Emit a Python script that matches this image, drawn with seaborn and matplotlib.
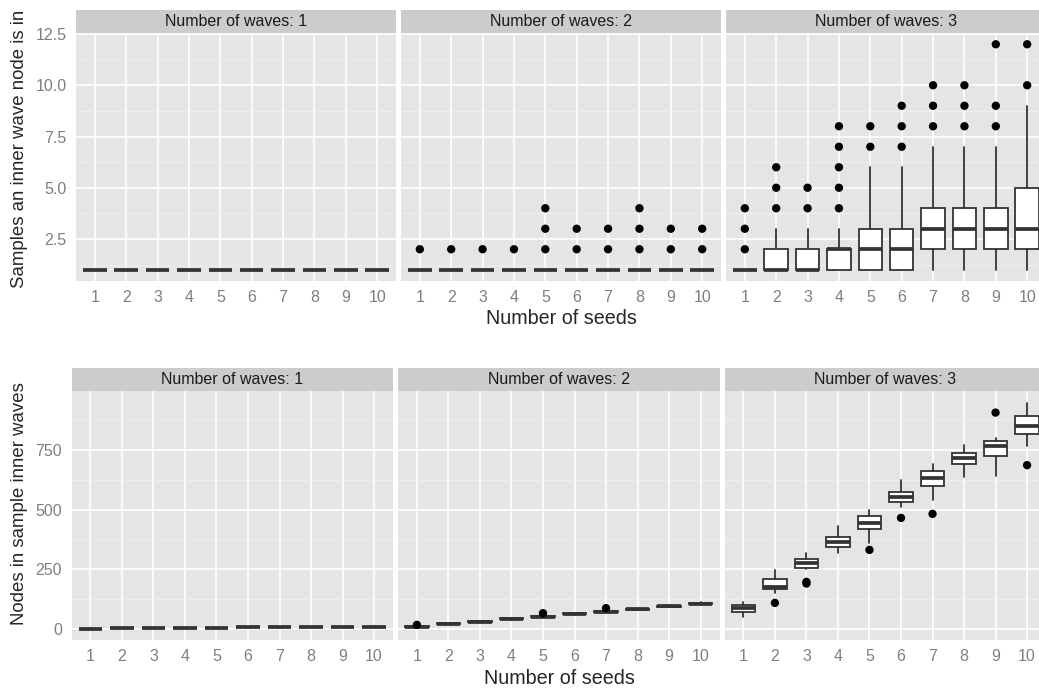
import numpy as np
import pandas as pd
import matplotlib
matplotlib.use("Agg")
import matplotlib.pyplot as plt
import seaborn as sns

# ---- data ----
seeds = [1, 2, 3, 4, 5, 6, 7, 8, 9, 10]
wave_labels = ["Number of waves: 1", "Number of waves: 2", "Number of waves: 3"]

# top row: samples an inner wave node is in
top1_q1 = [1, 1, 1, 1, 1, 1, 1, 1, 1, 1]
top1_med = [1, 1, 1, 1, 1, 1, 1, 1, 1, 1]
top1_q3 = [1, 1, 1, 1, 1, 1, 1, 1, 1, 1]
top1_lo = [1, 1, 1, 1, 1, 1, 1, 1, 1, 1]
top1_hi = [1, 1, 1, 1, 1, 1, 1, 1, 1, 1]
top1_out = [[], [], [], [], [], [], [], [], [], []]

top2_q1 = [1, 1, 1, 1, 1, 1, 1, 1, 1, 1]
top2_med = [1, 1, 1, 1, 1, 1, 1, 1, 1, 1]
top2_q3 = [1, 1, 1, 1, 1, 1, 1, 1, 1, 1]
top2_lo = [1, 1, 1, 1, 1, 1, 1, 1, 1, 1]
top2_hi = [1, 1, 1, 1, 1, 1, 1, 1, 1, 1]
top2_out = [[2], [2], [2], [2], [2, 3, 4], [2, 3], [2, 3], [2, 3, 4], [2, 3], [2, 3]]

top3_q1 = [1, 1, 1, 1, 1, 1, 2, 2, 2, 2]
top3_med = [1, 1, 1, 2, 2, 2, 3, 3, 3, 3]
top3_q3 = [1, 2, 2, 2, 3, 3, 4, 4, 4, 5]
top3_lo = [1, 1, 1, 1, 1, 1, 1, 1, 1, 1]
top3_hi = [1, 3, 3, 3, 6, 6, 7, 7, 7, 9]
top3_out = [[2, 3, 4], [4, 5, 6], [4, 5], [4, 5, 6, 7, 8], [7, 8],
            [7, 8, 9], [8, 9, 10], [8, 9, 10], [8, 9, 12], [10, 12]]

# bottom row: nodes in sample inner waves
bot1_q1 = [1, 2, 3, 4, 5, 6, 7, 8, 9, 10]
bot1_med = [1, 2, 3, 4, 5, 6, 7, 8, 9, 10]
bot1_q3 = [1, 2, 3, 4, 5, 6, 7, 8, 9, 10]
bot1_lo = [1, 2, 3, 4, 5, 6, 7, 8, 9, 10]
bot1_hi = [2, 3, 4, 5, 6, 7, 8, 9, 10, 11]
bot1_out = [[], [], [], [], [], [], [], [], [], []]

bot2_q1 = [8, 19, 29, 40, 50, 61, 70, 80, 93, 104]
bot2_med = [10, 21, 31, 42, 52, 63, 72, 82, 95, 106]
bot2_q3 = [12, 23, 33, 44, 54, 65, 74, 84, 97, 108]
bot2_lo = [6, 17, 27, 38, 47, 58, 67, 78, 90, 101]
bot2_hi = [14, 25, 35, 46, 57, 68, 77, 86, 100, 111]
bot2_out = [[17], [], [], [], [66], [], [87], [], [], []]

bot3_q1 = [71, 168, 254, 342, 419, 533, 600, 690, 725, 816]
bot3_med = [86, 175, 275, 363, 443, 554, 631, 715, 767, 850]
bot3_q3 = [100, 209, 294, 384, 471, 574, 662, 736, 785, 890]
bot3_lo = [52, 150, 250, 317, 359, 510, 540, 635, 642, 767]
bot3_hi = [114, 247, 320, 431, 498, 624, 690, 771, 799, 948]
bot3_out = [[], [109], [190, 197], [], [331], [465], [482], [], [906], [686]]

top_y_title = "Samples an inner wave node is in"
bot_y_title = "Nodes in sample inner waves"
x_title = "Number of seeds"

# ---- style (ggplot-ish grey theme) ----
sns.set_theme(style="darkgrid", rc={
    "axes.facecolor": "#E5E5E5",
    "grid.color": "white",
})
plt.rcParams['font.family'] = ['Liberation Sans', 'DejaVu Sans']

W, H = 1039, 690
fig = plt.figure(figsize=(W / 100, H / 100), dpi=100)
fig.patch.set_facecolor("white")

EDGE = "#333333"
TICKC = "#7F7F7F"


def px_axes(x0, y0, x1, y1):
    return fig.add_axes([x0 / W, 1 - y1 / H, (x1 - x0) / W, (y1 - y0) / H])


def draw_panel(ax, q1, med, q3, lo, hi, out, ylim, major, minor, ylabels, show_y):
    stats = [dict(q1=a, med=m, q3=b, whislo=l, whishi=h, fliers=[])
             for a, m, b, l, h in zip(q1, med, q3, lo, hi)]
    ax.bxp(stats, positions=seeds, widths=0.75, showcaps=False,
           showfliers=False, patch_artist=True, manage_ticks=False,
           boxprops=dict(facecolor="white", edgecolor=EDGE, linewidth=1.3),
           medianprops=dict(color=EDGE, linewidth=2.7, solid_capstyle="butt"),
           whiskerprops=dict(color=EDGE, linewidth=1.3))
    pts = pd.DataFrame([(s, v) for s, vals in zip(seeds, out) for v in vals],
                       columns=["seed", "value"])
    if len(pts):
        sns.scatterplot(data=pts, x="seed", y="value", ax=ax, color="black",
                        s=36, edgecolor="none", legend=False, zorder=5)
    ax.set_xlim(0.4, 10.6)
    ax.set_ylim(*ylim)
    ax.set_xticks(seeds)
    ax.set_xticklabels([str(s) for s in seeds])
    ax.set_yticks(major)
    ax.set_yticks(minor, minor=True)
    ax.set_axisbelow(True)
    ax.grid(False)
    ax.grid(which="major", axis="both", color="white", linewidth=1.2)
    ax.grid(which="minor", axis="y", color="#F2F2F2", linewidth=0.6)
    ax.tick_params(axis="both", which="major", direction="out", length=4.3,
                   width=0.8, color=TICKC, labelcolor=TICKC, labelsize=11.5, pad=2.5)
    ax.tick_params(axis="both", which="minor", length=0)
    if show_y:
        ax.set_yticklabels(ylabels)
    else:
        ax.tick_params(axis="y", which="major", length=0, labelleft=False)
    for sp in ax.spines.values():
        sp.set_visible(False)
    ax.set_xlabel("")
    ax.set_ylabel("")


def draw_strip(x0, y0, x1, y1, label):
    s = px_axes(x0, y0, x1, y1)
    s.set_facecolor("#CCCCCC")
    s.set_xticks([])
    s.set_yticks([])
    s.grid(False)
    for sp in s.spines.values():
        sp.set_visible(False)
    s.text(0.5, 0.5, label, ha="center", va="center", fontsize=11.5,
           color="#1A1A1A", transform=s.transAxes)


# top row
top_sets = [
    (top1_q1, top1_med, top1_q3, top1_lo, top1_hi, top1_out),
    (top2_q1, top2_med, top2_q3, top2_lo, top2_hi, top2_out),
    (top3_q1, top3_med, top3_q3, top3_lo, top3_hi, top3_out),
]
top_lefts = [76, 401, 726]
for i, (x0, d) in enumerate(zip(top_lefts, top_sets)):
    ax = px_axes(x0, 33, x0 + 320, 281)
    draw_panel(ax, *d, ylim=(0.45, 12.55),
               major=[2.5, 5.0, 7.5, 10.0, 12.5],
               minor=[1.25, 3.75, 6.25, 8.75, 11.25],
               ylabels=["2.5", "5.0", "7.5", "10.0", "12.5"], show_y=(i == 0))
    draw_strip(x0, 9.5, x0 + 320, 33, wave_labels[i])

# bottom row
bot_sets = [
    (bot1_q1, bot1_med, bot1_q3, bot1_lo, bot1_hi, bot1_out),
    (bot2_q1, bot2_med, bot2_q3, bot2_lo, bot2_hi, bot2_out),
    (bot3_q1, bot3_med, bot3_q3, bot3_lo, bot3_hi, bot3_out),
]
bot_lefts = [71.5, 398, 724.5]
for i, (x0, d) in enumerate(zip(bot_lefts, bot_sets)):
    ax = px_axes(x0, 391, x0 + 321.5, 640)
    draw_panel(ax, *d, ylim=(-46.4, 996.5),
               major=[0, 250, 500, 750],
               minor=[125, 375, 625, 875],
               ylabels=["0", "250", "500", "750"], show_y=(i == 0))
    draw_strip(x0, 368, x0 + 321.5, 391, wave_labels[i])

# axis titles
fig.text(561 / W, 1 - 319 / H, x_title, ha="center", va="center", fontsize=14.2)
fig.text(559 / W, 1 - 678 / H, x_title, ha="center", va="center", fontsize=14.2)
fig.text(20 / W, 1 - 149 / H, top_y_title, ha="center", va="center",
         rotation=90, fontsize=13.4)
fig.text(20 / W, 1 - 504 / H, bot_y_title, ha="center", va="center",
         rotation=90, fontsize=13.4)

fig.savefig("out.png", dpi=100)
